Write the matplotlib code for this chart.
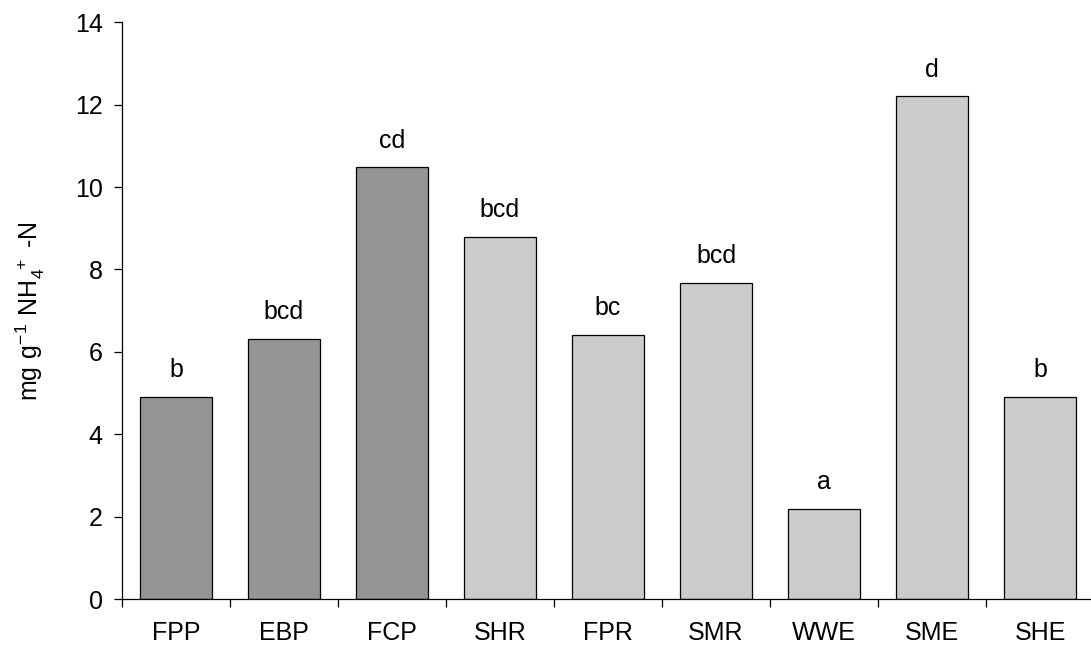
import matplotlib.pyplot as plt
import numpy as np

plt.rcParams['font.family'] = ['Liberation Sans', 'DejaVu Sans']
plt.rcParams['mathtext.fontset'] = 'custom'
plt.rcParams['mathtext.rm'] = 'Liberation Sans'

sites = ['FPP', 'EBP', 'FCP', 'SHR', 'FPR', 'SMR', 'WWE', 'SME', 'SHE']
nh4_n = [4.91, 6.32, 10.49, 8.80, 6.42, 7.68, 2.19, 12.2, 4.91]
letters = ['b', 'bcd', 'cd', 'bcd', 'bc', 'bcd', 'a', 'd', 'b']
# first three sites drawn in darker grey
dark = [True, True, True, False, False, False, False, False, False]

fig = plt.figure(figsize=(10.91, 6.48), dpi=100)
ax = fig.add_axes([0.1118, 0.0756, 0.891, 0.890])

x = np.arange(len(sites))
colors = ['#959595' if d else '#cbcbcb' for d in dark]
ax.bar(x, nh4_n, width=0.667, color=colors, edgecolor='black', linewidth=0.9)

for xi, v, lab in zip(x, nh4_n, letters):
    ax.text(xi, v + 0.47, lab, ha='center', va='baseline', fontsize=18)

ax.set_xlim(-0.5, len(sites) - 0.5)
ax.set_ylim(0, 14)
ax.set_yticks(range(0, 15, 2))
ax.set_xticks(x)
ax.set_xticklabels(sites)
ax.set_xticks(np.arange(-0.5, len(sites), 1.0), minor=True)
ax.tick_params(axis='x', which='major', length=0, pad=16, labelsize=18)
ax.tick_params(axis='x', which='minor', length=6, width=0.9)
ax.tick_params(axis='y', length=6, width=0.9, pad=8, labelsize=18)

for s in ['top', 'right']:
    ax.spines[s].set_visible(False)
ax.spines['left'].set_linewidth(0.9)
ax.spines['bottom'].set_linewidth(0.9)

ax.set_ylabel(r'$\mathregular{mg\ g^{-1}\ NH_4^{\ +}\ \text{-}N}$', fontsize=18)
ax.yaxis.set_label_coords(-0.077, 0.5)

fig.savefig('out.png', dpi=100)
